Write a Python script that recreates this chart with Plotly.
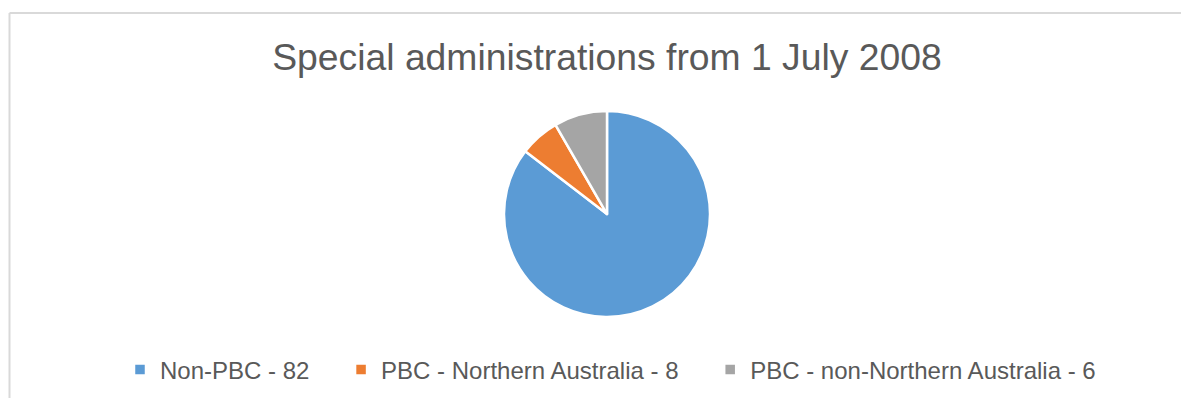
import plotly.graph_objects as go

W, H = 1189, 398
OFF = 8  # default body margin of the html page

categories = ["Non-PBC - 82", "PBC - Northern Australia - 8", "PBC - non-Northern Australia - 6"]
values = [82, 6, 8]
colors = ["#5B9BD5", "#ED7D31", "#A5A5A5"]
title_text = "Special administrations from 1 July 2008"

PAD = "\u00a0" * 4
legend_labels = [c + PAD for c in categories]

def px(x):
    return (x - OFF) / W

def py(y):
    return 1 - (y - OFF) / H

cx, cy, r = 607, 214, 103

fig = go.Figure(go.Pie(
    labels=legend_labels,
    values=values,
    sort=False,
    direction="clockwise",
    rotation=0,
    marker=dict(colors=colors, line=dict(color="white", width=2.5)),
    textinfo="none",
    hoverinfo="label+value",
    domain=dict(x=[px(cx - r), px(cx + r)], y=[py(cy + r), py(cy - r)]),
))

fig.update_layout(
    width=W, height=H,
    margin=dict(l=0, r=0, t=0, b=0),
    paper_bgcolor="white",
    plot_bgcolor="white",
    font=dict(family="Liberation Sans, Arial, sans-serif", color="#595959"),
    title=dict(text=title_text, x=px(607), xanchor="center", y=py(57), yanchor="middle",
               font=dict(size=37.3, color="#595959")),
    legend=dict(orientation="h", x=px(624), xanchor="center", y=py(370), yanchor="middle",
                font=dict(size=24, color="#595959"), traceorder="normal"),
    shapes=[
        dict(type="line", xref="paper", yref="paper", x0=px(9.5), x1=px(9.5), y0=-0.1, y1=py(13),
             line=dict(color="#D9D9D9", width=2)),
        dict(type="line", xref="paper", yref="paper", x0=px(9.5), x1=1, y0=py(13), y1=py(13),
             line=dict(color="#D9D9D9", width=2)),
    ],
)

fig.write_html("out.html")
